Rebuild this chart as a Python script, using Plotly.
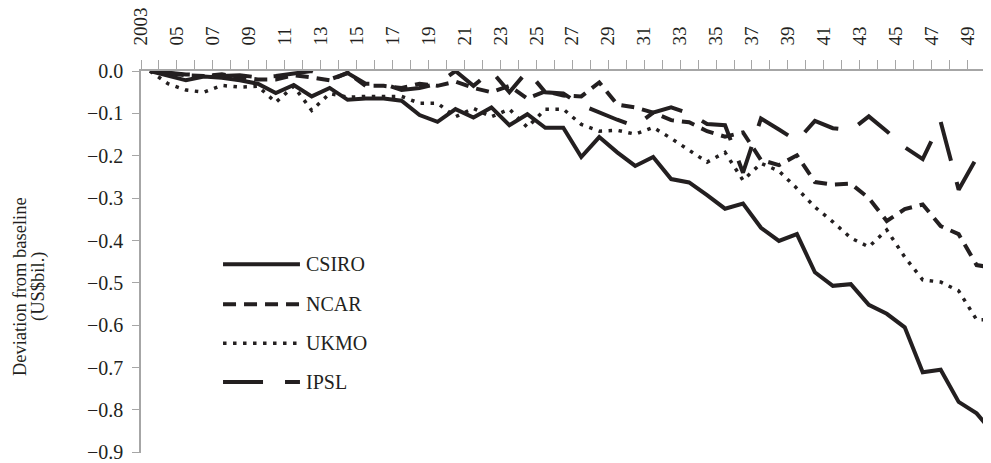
import plotly.graph_objects as go

years = list(range(2003, 2051))

csiro = [0.0, -0.011, -0.022, -0.013, -0.016, -0.022, -0.03, -0.052, -0.033, -0.06,
         -0.04, -0.068, -0.065, -0.065, -0.07, -0.104, -0.12, -0.09, -0.11, -0.086,
         -0.128, -0.102, -0.134, -0.134, -0.203, -0.156, -0.192, -0.224, -0.203, -0.255,
         -0.263, -0.293, -0.325, -0.313, -0.37, -0.401, -0.385, -0.475, -0.507, -0.503,
         -0.552, -0.573, -0.605, -0.711, -0.705, -0.781, -0.808, -0.858]

ncar = [0.0, -0.005, -0.01, -0.012, -0.008, -0.015, -0.02, -0.02, -0.01, -0.015,
        -0.022, -0.004, -0.035, -0.035, -0.04, -0.03, -0.035, -0.025, -0.04, -0.05,
        -0.035, -0.065, -0.048, -0.058, -0.06, -0.027, -0.079, -0.086, -0.098, -0.116,
        -0.121, -0.142, -0.155, -0.145, -0.21, -0.222, -0.199, -0.262, -0.268, -0.266,
        -0.30, -0.354, -0.326, -0.315, -0.366, -0.385, -0.458, -0.465]

ukmo = [0.0, -0.03, -0.045, -0.05, -0.034, -0.038, -0.036, -0.074, -0.036, -0.093,
        -0.053, -0.062, -0.06, -0.06, -0.06, -0.076, -0.076, -0.108, -0.088, -0.108,
        -0.09, -0.133, -0.09, -0.09, -0.126, -0.142, -0.14, -0.149, -0.133, -0.159,
        -0.187, -0.215, -0.192, -0.258, -0.218, -0.236, -0.277, -0.321, -0.356, -0.394,
        -0.415, -0.375, -0.439, -0.493, -0.498, -0.519, -0.587, -0.587]

ipsl = [0.0, -0.005, -0.008, -0.01, -0.012, -0.01, -0.015, -0.012, -0.005, 0.0,
        -0.02, -0.005, -0.03, -0.03, -0.045, -0.04, -0.03, 0.0, -0.035, 0.0,
        -0.05, 0.0, -0.05, -0.053, -0.08, -0.098, -0.115, -0.13, -0.098, -0.086,
        -0.1, -0.125, -0.128, -0.24, -0.112, -0.138, -0.165, -0.118, -0.135, -0.14,
        -0.107, -0.142, -0.18, -0.208, -0.12, -0.28, -0.205, -0.15]

series_names = ["CSIRO", "NCAR", "UKMO", "IPSL"]
series_values = [csiro, ncar, ukmo, ipsl]

tick_labels = ["2003"] + ["%02d" % (y % 100) if (y - 2003) % 2 == 0 else "" for y in years[1:47]]
y_ticks = [0.0, -0.1, -0.2, -0.3, -0.4, -0.5, -0.6, -0.7, -0.8, -0.9]

INK = "#231f20"
FONT = "Liberation Serif"
styles = {
    "CSIRO": dict(width=4, dash="solid"),
    "NCAR": dict(width=4, dash="13px,8px"),
    "UKMO": dict(width=3.5, dash="3.5px,6.5px"),
    "IPSL": dict(width=4, dash="40px,22px"),
}

fig = go.Figure()
for name, vals in zip(series_names, series_values):
    st = styles[name]
    fig.add_trace(go.Scatter(x=years, y=vals, mode="lines", name=name,
                             line=dict(color=INK, width=st["width"], dash=st["dash"]),
                             showlegend=False))

# manual legend (line samples + labels) inside the plot
leg_y = [0.494, 0.3895, 0.2876, 0.1856]
for name, ly in zip(series_names, leg_y):
    st = styles[name]
    fig.add_shape(type="line", xref="paper", yref="paper", x0=0.0965, x1=0.187, y0=ly, y1=ly,
                  line=dict(color=INK, width=st["width"], dash=st["dash"]))
    fig.add_annotation(xref="paper", yref="paper", x=0.192, y=ly, text=name, showarrow=False,
                       xanchor="left", yanchor="middle", font=dict(family=FONT, size=20, color=INK))

# y-axis title (two lines)
fig.add_annotation(xref="paper", yref="paper", x=-0.1425, y=0.4366, text="Deviation from baseline",
                   textangle=-90, showarrow=False, xanchor="center", yanchor="middle",
                   font=dict(family=FONT, size=18.5, color=INK))
fig.add_annotation(xref="paper", yref="paper", x=-0.1215, y=0.4366, text="(US$bil.)",
                   textangle=-90, showarrow=False, xanchor="center", yanchor="middle",
                   font=dict(family=FONT, size=18.5, color=INK))

fig.update_layout(
    width=983, height=455,
    margin=dict(l=133, r=0, t=62.5, b=10),
    paper_bgcolor="white", plot_bgcolor="white",
    font=dict(family=FONT, size=19, color=INK),
)
fig.update_xaxes(
    side="top", range=[2002.5, 2049.8], automargin=False,
    tickmode="array", tickvals=[y - 0.5 for y in years[:47]], ticktext=tick_labels,
    tickangle=-90, ticks="outside", ticklen=9, tickcolor="#a6a6a6", tickwidth=1.3,
    showline=True, linecolor="#a6a6a6", linewidth=1.5, showgrid=False, zeroline=False,
    ticklabelstandoff=11, ticklabeloverflow="allow", tickfont=dict(family=FONT, size=19, color=INK),
)
fig.update_yaxes(
    range=[-0.9015, 0.0], automargin=False, tickmode="array", tickvals=y_ticks,
    ticktext=[("%.1f" % v).replace("-", "\u2212") if v != 0 else "0.0" for v in y_ticks],
    ticks="outside", ticklen=7, tickcolor="#a6a6a6", tickwidth=1.3,
    showline=True, linecolor="#a6a6a6", linewidth=1.5, showgrid=False, zeroline=False,
    ticklabelstandoff=5, ticklabeloverflow="allow", tickfont=dict(family=FONT, size=20, color=INK),
)

fig.write_html("out.html")
